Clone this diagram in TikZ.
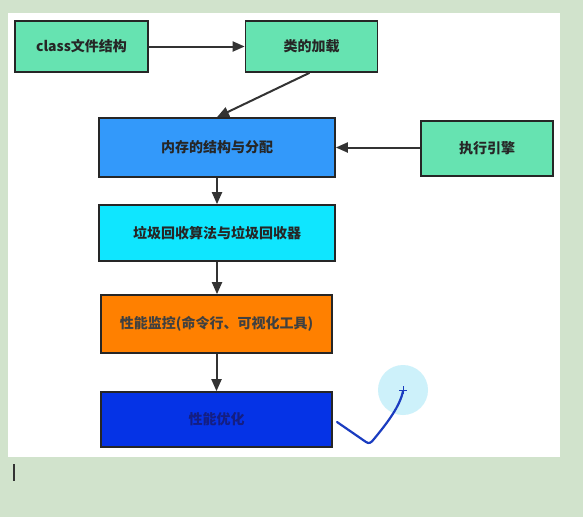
\documentclass[tikz,border=0pt]{standalone}
\usepackage{fontspec}
\newfontfamily\cjk{Noto Sans CJK SC}
\usetikzlibrary{arrows.meta}
\definecolor{bgg}{HTML}{D1E3CC}
\definecolor{mint}{HTML}{66E3B1}
\definecolor{memblue}{HTML}{3399FA}
\definecolor{gccyan}{HTML}{0FE6FF}
\definecolor{perforange}{HTML}{FF8000}
\definecolor{deepblue}{HTML}{0533E6}
\definecolor{pen}{HTML}{1A3CC0}
\definecolor{halo}{HTML}{CDF1FA}
\tikzset{
  box/.style={draw=black!85, line width=1.7pt, minimum height=0pt, inner sep=0pt,
    font=\cjk\bfseries\fontsize{14}{16}\selectfont, text=black!85},
  conn/.style={draw=black!80, line width=2pt, -{Triangle[length=12pt,width=10pt]}}
}
\begin{document}
\begin{tikzpicture}[x=1pt,y=-1pt]
\useasboundingbox (0,0) rectangle (583,517);
\fill[bgg] (0,0) rectangle (583,517);
\fill[white] (8,13) rectangle (560,457);
% boxes
\node[box, fill=mint, minimum width=133pt, minimum height=51pt] (cls) at (81.5,46.5) {class文件结构};
\node[box, fill=mint, minimum width=132pt, minimum height=51pt] (load) at (311.5,46.5) {类的加载};
\node[box, fill=memblue, minimum width=236pt, minimum height=59pt] (mem) at (217,147.5) {内存的结构与分配};
\node[box, fill=mint, minimum width=132pt, minimum height=55pt] (exe) at (487,148.5) {执行引擎};
\node[box, fill=gccyan, minimum width=236pt, minimum height=56pt] (gc) at (217,233) {垃圾回收算法与垃圾回收器};
\node[box, fill=perforange, minimum width=231pt, minimum height=58pt, text=black!75] (mon) at (216.5,324) {性能监控(命令行、可视化工具)};
\node[box, fill=deepblue, minimum width=231pt, minimum height=55pt, text={rgb,255:red,20;green,30;blue,130}] (opt) at (216.5,419.5) {性能优化};
% connectors
\draw[conn] (cls.east) -- (load.west);
\draw[conn] (load.south) ++(-2,0) coordinate (ls) (ls) -- (mem.north);
\draw[conn] (exe.west |- mem.east) -- (mem.east);
\draw[conn] (mem.south) -- (gc.north);
\draw[conn] (gc.south) -- (gc.south |- mon.north);
\draw[conn] (mon.south) -- (opt.north);
% pen annotation
\fill[halo] (403,390) circle (25);
\draw[pen, line width=1pt] (399,390) -- (407,390) (403,386) -- (403,394);
\draw[pen, line width=2.2pt, line cap=round, line join=round]
  (337,422) -- (366,442) .. controls (369,444) and (371,443) .. (374,439)
  .. controls (388,422) and (400,406) .. (403,391);
% text cursor
\draw[black!80, line width=2pt] (13.5,464) -- (13.5,481);
\end{tikzpicture}
\end{document}
